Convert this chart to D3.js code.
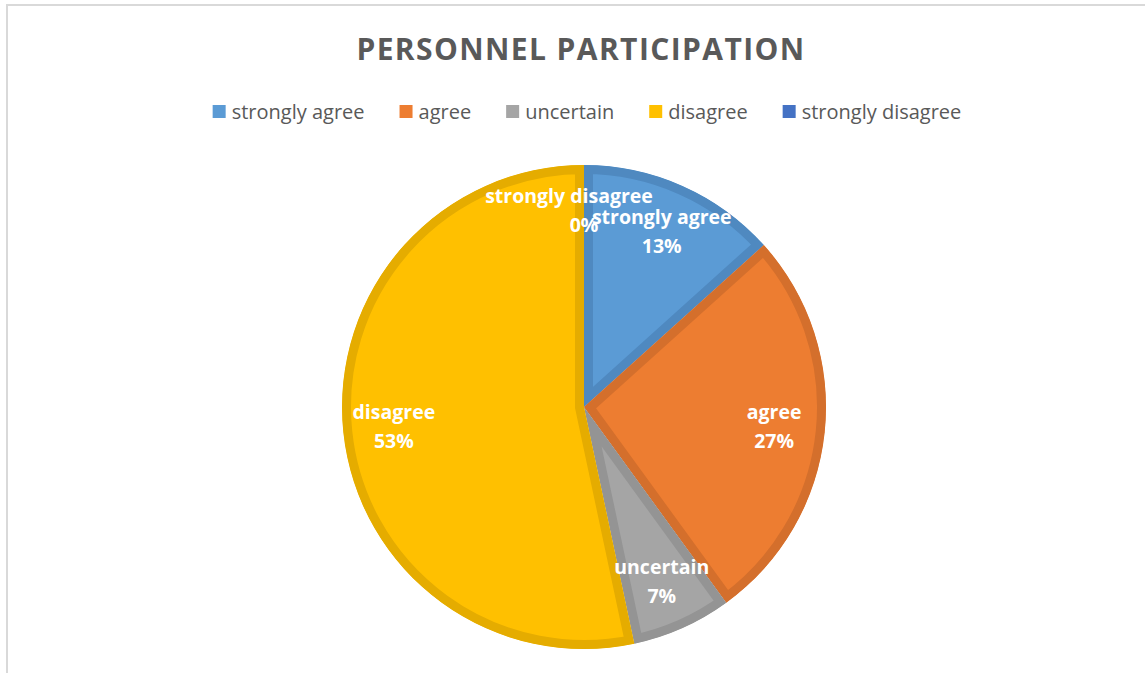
<!DOCTYPE html>
<html>
<head>
<meta charset="utf-8">
<script src="https://cdn.jsdelivr.net/npm/d3@7"></script>
<style>
  body { margin: 0; background: #fff; }
  svg { display: block; font-family: "Open Sans", sans-serif; }
</style>
</head>
<body>
<svg id="chart"></svg>
<script>
// data (counts out of 15)
const categories = ["strongly agree", "agree", "uncertain", "disagree", "strongly disagree"];
const counts = [2, 4, 1, 8, 0];
const fills = ["#5b9bd5", "#ed7d31", "#a5a5a5", "#ffc000", "#4472c4"];
const borders = ["#4f89c0", "#d46f2c", "#949494", "#e5ac00", "#3d66b0"];
const title = "PERSONNEL PARTICIPATION";

const width = 1145, height = 673;
const cx = 584, cy = 407, radius = 242;

const svg = d3.select("#chart").attr("width", width).attr("height", height);

// chart frame
svg.append("rect")
  .attr("x", 7).attr("y", 5)
  .attr("width", width + 20).attr("height", height + 20)
  .attr("fill", "#fff")
  .attr("stroke", "#d9d9d9")
  .attr("stroke-width", 2);

// title
svg.append("text")
  .attr("x", 581)
  .attr("y", 60)
  .attr("text-anchor", "middle")
  .style("font-size", "30px")
  .style("font-weight", "bold")
  .style("letter-spacing", "1.4px")
  .style("fill", "#595959")
  .text(title);

// legend, laid out from measured text widths and centred
const legend = svg.append("g");
const gap = 35;
let lx = 0;
categories.forEach((c, i) => {
  const g = legend.append("g").attr("transform", `translate(${lx},0)`);
  g.append("rect")
    .attr("x", 0).attr("y", -7)
    .attr("width", 13).attr("height", 13)
    .attr("fill", fills[i]);
  const t = g.append("text")
    .attr("x", 19).attr("y", 0)
    .attr("dy", "0.35em")
    .style("font-size", "20px")
    .style("fill", "#595959")
    .text(c);
  lx += 19 + t.node().getComputedTextLength() + gap;
});
const legendW = lx - gap;
legend.attr("transform", `translate(${587 - legendW / 2},112)`);

// pie
const pie = d3.pie().sort(null).value(d => d)(counts);
const arc = d3.arc().innerRadius(0).outerRadius(radius);
const labelArc = d3.arc().innerRadius(radius * 0.79).outerRadius(radius * 0.79);

const g = svg.append("g").attr("transform", `translate(${cx},${cy})`);
const defs = svg.append("defs");

pie.forEach((p, i) => {
  if (p.value === 0) return;
  defs.append("clipPath").attr("id", "clip" + i)
    .append("path").attr("d", arc(p));
  g.append("path")
    .attr("d", arc(p))
    .attr("fill", fills[i])
    .attr("stroke", borders[i])
    .attr("stroke-width", 18)
    .attr("stroke-linejoin", "miter")
    .attr("clip-path", `url(#clip${i})`);
});

// data labels
pie.forEach((p, i) => {
  let [x, y] = labelArc.centroid(p);
  if (p.value === 0) y -= 5;
  const pct = Math.round(p.value / d3.sum(counts) * 100) + "%";
  const t = g.append("text")
    .attr("text-anchor", "middle")
    .style("font-size", "19.5px")
    .style("font-weight", "bold")
    .style("fill", "#fff");
  t.append("tspan").attr("x", p.value === 0 ? x - 15 : x).attr("y", y - 8).text(categories[i]);
  t.append("tspan").attr("x", x).attr("y", y + 21).text(pct);
});
</script>
</body>
</html>
